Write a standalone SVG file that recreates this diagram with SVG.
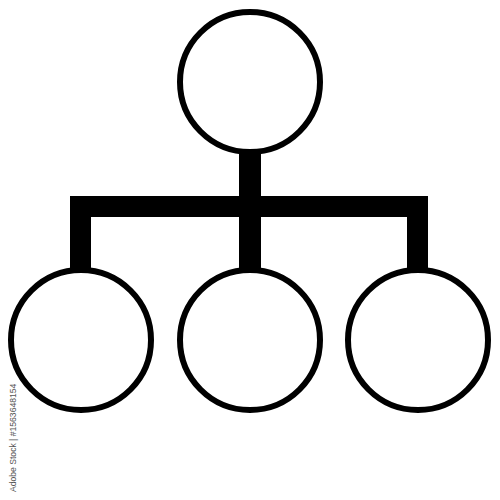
<svg xmlns="http://www.w3.org/2000/svg" width="500" height="500" viewBox="0 0 500 500">
<style>
.node{fill:#fff;stroke:#000;stroke-width:6}
.conn{fill:#000;stroke:none}
.wm{font-family:"Liberation Sans",Arial,sans-serif;font-size:8.6px;fill:#555}
</style>
<rect width="500" height="500" fill="#fff"/>
<g id="connectors">
<rect class="conn" x="239" y="150" width="22" height="118"/>
<rect class="conn" x="70" y="196" width="358" height="21"/>
<rect class="conn" x="70" y="196" width="21" height="72"/>
<rect class="conn" x="407" y="196" width="21" height="72"/>
</g>
<g id="node-top"><circle class="node" cx="250" cy="82" r="70"/></g>
<g id="node-left"><circle class="node" cx="81" cy="340" r="70"/></g>
<g id="node-middle"><circle class="node" cx="250" cy="340" r="70"/></g>
<g id="node-right"><circle class="node" cx="418" cy="340" r="70"/></g>
<text class="wm" transform="translate(16,492) rotate(-90)">Adobe Stock | #1563648154</text>
</svg>
